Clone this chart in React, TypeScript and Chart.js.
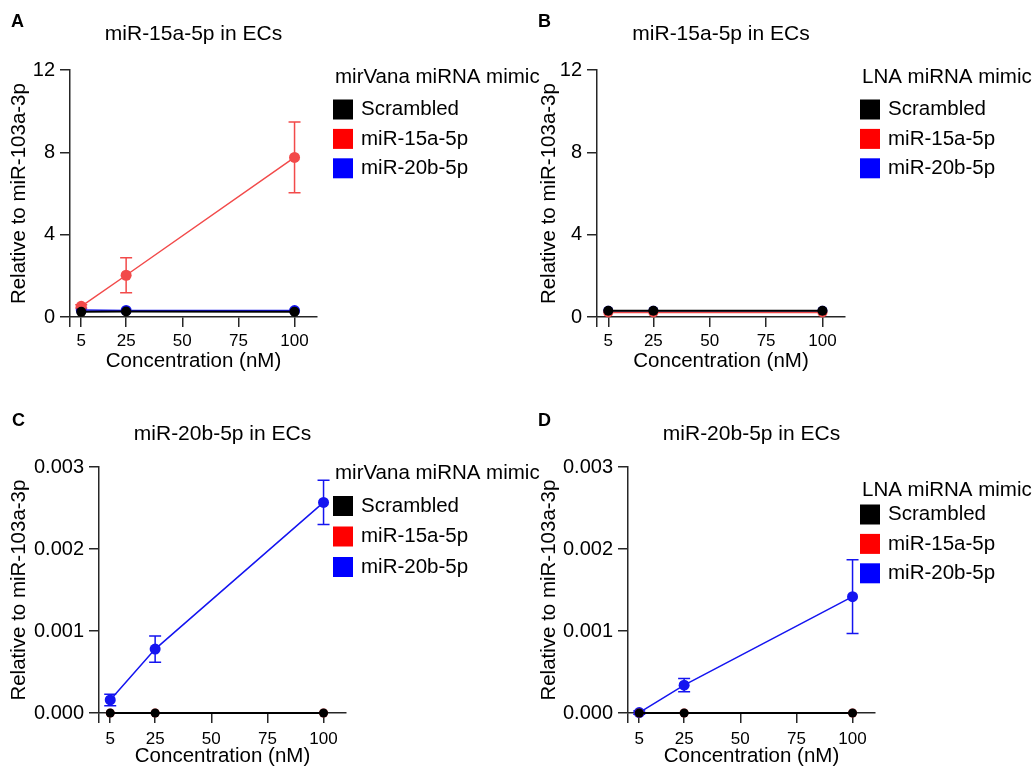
import React, { useEffect, useRef } from 'react';
import { Chart, registerables } from 'chart.js';

Chart.register(...registerables);

const FONT = "'Liberation Sans', Arial, Helvetica, sans-serif";
Chart.defaults.font.family = FONT;
Chart.defaults.color = '#000';

// ---------- data ----------
const concentrations = [5, 25, 100];
const seriesNames = ['Scrambled', 'miR-15a-5p', 'miR-20b-5p'];
const xTickValues = [0, 5, 25, 50, 75, 100];
const yTicksMiR15a = [0, 4, 8, 12];
const yTicksMiR20b = [0, 0.001, 0.002, 0.003];

// Panel A: miR-15a-5p, mirVana mimic
const aScrambled = [0.25, 0.27, 0.26];
const aMiR15a = [0.52, 2.03, 7.76];
const aMiR20b = [0.34, 0.32, 0.31];
const aScrambledErr = [0, 0, 0];
const aMiR15aErr = [0.08, 0.85, 1.72];
const aMiR20bErr = [0, 0, 0];

// Panel B: miR-15a-5p, LNA mimic
const bScrambled = [0.3, 0.3, 0.3];
const bMiR15a = [0.22, 0.22, 0.22];
const bMiR20b = [0.3, 0.3, 0.3];
const bScrambledErr = [0, 0, 0];
const bMiR15aErr = [0, 0, 0];
const bMiR20bErr = [0, 0, 0];

// Panel C: miR-20b-5p, mirVana mimic
const cScrambled = [0, 0, 0];
const cMiR15a = [0, 0, 0];
const cMiR20b = [0.00016, 0.00078, 0.00257];
const cScrambledErr = [0, 0, 0];
const cMiR15aErr = [0, 0, 0];
const cMiR20bErr = [0.00007, 0.00016, 0.00027];

// Panel D: miR-20b-5p, LNA mimic
const dScrambled = [0, 0, 0];
const dMiR15a = [0, 0, 0];
const dMiR20b = [0.000005, 0.00034, 0.00142];
const dScrambledErr = [0, 0, 0];
const dMiR15aErr = [0, 0, 0];
const dMiR20bErr = [0.00002, 0.00008, 0.00045];

// ---------- styles ----------
const AXIS = '#262626';
const lineColors = ['#000000', '#f24a4a', '#1414f0'];
const pointColors = ['#000000', '#f24a4a', '#1414f0'];
const legendColors = ['#000000', '#ff0000', '#0000ff'];
const lineWidths = [2, 1.5, 1.5];

const errorBarsPlugin = {
  id: 'errorBars',
  beforeDatasetsDraw(chart: any) {
    const { ctx } = chart;
    const xs = chart.scales.x;
    const ys = chart.scales.y;
    chart.data.datasets.forEach((ds: any) => {
      if (!ds.errors) return;
      ctx.save();
      ctx.strokeStyle = ds.borderColor;
      ctx.lineWidth = 1.5;
      ds.data.forEach((pt: any, j: number) => {
        const e = ds.errors[j];
        if (!e) return;
        const px = xs.getPixelForValue(pt.x);
        const top = ys.getPixelForValue(pt.y + e);
        const bot = ys.getPixelForValue(pt.y - e);
        ctx.beginPath();
        ctx.moveTo(px, top);
        ctx.lineTo(px, bot);
        ctx.moveTo(px - 6, top);
        ctx.lineTo(px + 6, top);
        ctx.moveTo(px - 6, bot);
        ctx.lineTo(px + 6, bot);
        ctx.stroke();
      });
      ctx.restore();
    });
  },
};

const decorPlugin = {
  id: 'decor',
  afterDraw(chart: any, _args: any, o: any) {
    const { ctx } = chart;
    ctx.save();
    ctx.textBaseline = 'middle';
    ctx.textAlign = 'left';
    ctx.fillStyle = '#000';
    ctx.font = `bold 18px ${FONT}`;
    ctx.fillText(o.letter, o.letterX, o.letterY);
    ctx.font = `20.5px ${FONT}`;
    ctx.fillText(o.legendTitle, o.legendX + 2, o.legendTitleY);
    chart.data.datasets.forEach((ds: any, i: number) => {
      const y = o.legendItemY + i * o.legendGap;
      ctx.fillStyle = legendColors[i];
      ctx.fillRect(o.legendX, y - 10, 20, 20);
      ctx.fillStyle = '#000';
      ctx.fillText(ds.label, o.legendX + 28, y);
    });
    ctx.restore();
  },
};

type PanelCfg = {
  left: number; top: number; w: number; h: number;
  letter: string; title: string; legendTitle: string;
  series: number[][]; errors: number[][];
  yTicks: number[]; yDecimals: number;
  radii: number[];
  yWidth: number; xHeight: number;
  padRight: number; padBottom: number;
  titleTop: number; titleBottom: number;
  xTitleBottom: number; xTickPad: number;
  letterX: number; letterY: number;
  legendX: number; legendTitleY: number; legendItemY: number; legendGap: number;
};

const panels: PanelCfg[] = [
  {
    left: 0, top: 0, w: 540, h: 390,
    letter: 'A', title: 'miR-15a-5p in ECs', legendTitle: 'mirVana miRNA mimic',
    series: [aScrambled, aMiR15a, aMiR20b], errors: [aScrambledErr, aMiR15aErr, aMiR20bErr],
    yTicks: yTicksMiR15a, yDecimals: 0, radii: [5, 5.5, 5.5],
    yWidth: 70, xHeight: 60, padRight: 223, padBottom: 13,
    titleTop: 22, titleBottom: 23, xTitleBottom: 3, xTickPad: 4,
    letterX: 11, letterY: 22,
    legendX: 333, legendTitleY: 77.5, legendItemY: 109.5, legendGap: 29.4,
  },
  {
    left: 530, top: 0, w: 503, h: 390,
    letter: 'B', title: 'miR-15a-5p in ECs', legendTitle: 'LNA miRNA mimic',
    series: [bScrambled, bMiR15a, bMiR20b], errors: [bScrambledErr, bMiR15aErr, bMiR20bErr],
    yTicks: yTicksMiR15a, yDecimals: 0, radii: [5, 5, 5],
    yWidth: 67, xHeight: 60, padRight: 188, padBottom: 13,
    titleTop: 22, titleBottom: 23, xTitleBottom: 3, xTickPad: 4,
    letterX: 8, letterY: 22,
    legendX: 330, legendTitleY: 77.5, legendItemY: 109.5, legendGap: 29.4,
  },
  {
    left: 0, top: 390, w: 540, h: 382,
    letter: 'C', title: 'miR-20b-5p in ECs', legendTitle: 'mirVana miRNA mimic',
    series: [cScrambled, cMiR15a, cMiR20b], errors: [cScrambledErr, cMiR15aErr, cMiR20bErr],
    yTicks: yTicksMiR20b, yDecimals: 3, radii: [4.5, 4.5, 5.5],
    yWidth: 99, xHeight: 58, padRight: 194, padBottom: 1,
    titleTop: 32, titleBottom: 20, xTitleBottom: 2, xTickPad: 6,
    letterX: 12, letterY: 31,
    legendX: 333, legendTitleY: 83, legendItemY: 116, legendGap: 30.5,
  },
  {
    left: 530, top: 390, w: 503, h: 382,
    letter: 'D', title: 'miR-20b-5p in ECs', legendTitle: 'LNA miRNA mimic',
    series: [dScrambled, dMiR15a, dMiR20b], errors: [dScrambledErr, dMiR15aErr, dMiR20bErr],
    yTicks: yTicksMiR20b, yDecimals: 3, radii: [4.5, 4.5, 5.5],
    yWidth: 98, xHeight: 58, padRight: 158, padBottom: 1,
    titleTop: 32, titleBottom: 20, xTitleBottom: 2, xTickPad: 6,
    letterX: 8, letterY: 31,
    legendX: 330, legendTitleY: 100, legendItemY: 124.5, legendGap: 29.4,
  },
];

function buildConfig(p: PanelCfg): any {
  const datasets = p.series.map((vals, i) => ({
    label: seriesNames[i],
    data: concentrations.map((c, j) => ({ x: c, y: vals[j] })),
    errors: p.errors[i],
    borderColor: lineColors[i],
    backgroundColor: pointColors[i],
    pointBackgroundColor: pointColors[i],
    pointBorderColor: pointColors[i],
    pointBorderWidth: 0,
    pointRadius: p.radii[i],
    borderWidth: lineWidths[i],
    tension: 0,
    clip: false,
  }));
  const gridCommon = {
    display: true,
    drawOnChartArea: false,
    drawTicks: true,
    tickLength: 10,
    color: AXIS,
    lineWidth: 1.5,
  };
  return {
    type: 'line',
    data: { datasets },
    plugins: [errorBarsPlugin, decorPlugin],
    options: {
      responsive: false,
      animation: false,
      events: [],
      layout: { padding: { left: 0, top: 0, right: p.padRight, bottom: p.padBottom } },
      plugins: {
        legend: { display: false },
        tooltip: { enabled: false },
        title: {
          display: true,
          text: p.title,
          fullSize: false,
          color: '#000',
          font: { size: 21, weight: 'normal', family: FONT, lineHeight: 1.2 },
          padding: { top: p.titleTop, bottom: p.titleBottom },
        },
        decor: {
          letter: p.letter, letterX: p.letterX, letterY: p.letterY,
          legendTitle: p.legendTitle, legendX: p.legendX,
          legendTitleY: p.legendTitleY, legendItemY: p.legendItemY, legendGap: p.legendGap,
        },
      },
      scales: {
        x: {
          type: 'linear',
          min: 0,
          max: 110,
          afterBuildTicks: (s: any) => {
            s.ticks = xTickValues.map((v) => ({ value: v }));
          },
          afterFit: (s: any) => {
            s.height = p.xHeight;
          },
          ticks: {
            autoSkip: false,
            maxRotation: 0,
            padding: p.xTickPad,
            color: '#000',
            font: { size: 17 },
            callback: (v: number) => (v === 0 ? '' : String(v)),
          },
          grid: gridCommon,
          border: { display: true, color: AXIS, width: 1.5 },
          title: {
            display: true,
            text: 'Concentration (nM)',
            color: '#000',
            font: { size: 20.5 },
            padding: { top: 0, bottom: p.xTitleBottom },
          },
        },
        y: {
          type: 'linear',
          min: p.yTicks[0],
          max: p.yTicks[p.yTicks.length - 1],
          afterBuildTicks: (s: any) => {
            s.ticks = p.yTicks.map((v) => ({ value: v }));
          },
          afterFit: (s: any) => {
            s.width = p.yWidth;
          },
          ticks: {
            autoSkip: false,
            padding: 5,
            color: '#000',
            font: { size: 20 },
            callback: (v: number) => Number(v).toFixed(p.yDecimals),
          },
          grid: gridCommon,
          border: { display: true, color: AXIS, width: 1.5 },
          title: {
            display: true,
            text: 'Relative to miR-103a-3p',
            color: '#000',
            font: { size: 20.5 },
            padding: { top: 7, bottom: 0 },
          },
        },
      },
    },
  };
}

function Panel({ cfg }: { cfg: PanelCfg }) {
  const ref = useRef<HTMLCanvasElement>(null);
  useEffect(() => {
    const chart = new Chart(ref.current as HTMLCanvasElement, buildConfig(cfg));
    return () => chart.destroy();
  }, [cfg]);
  return (
    <canvas
      ref={ref}
      width={cfg.w}
      height={cfg.h}
      style={{ position: 'absolute', left: cfg.left, top: cfg.top, width: cfg.w, height: cfg.h, display: 'block' }}
    />
  );
}

export default function App() {
  return (
    <div style={{ position: 'absolute', left: 0, top: 0, width: 1033, height: 772, background: '#fff', overflow: 'hidden' }}>
      {panels.map((p) => (
        <Panel key={p.letter} cfg={p} />
      ))}
    </div>
  );
}
